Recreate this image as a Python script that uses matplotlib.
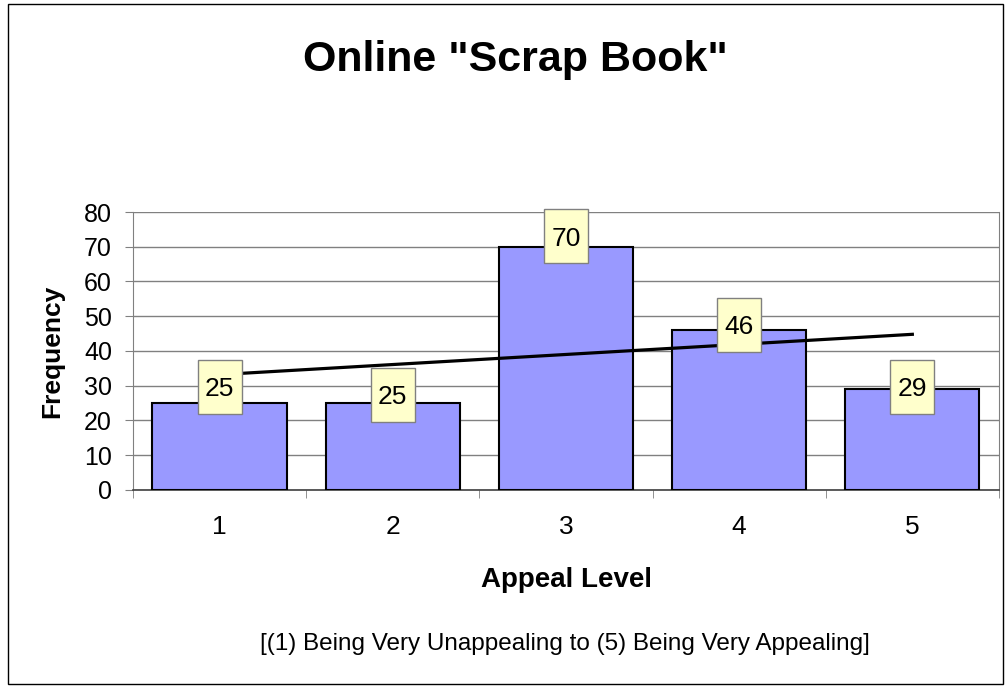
import matplotlib.pyplot as plt
import numpy as np
from matplotlib.patches import Rectangle
from matplotlib.transforms import ScaledTranslation

# datos
niveles = ['1', '2', '3', '4', '5']
frecuencia = [25, 25, 70, 46, 29]
yticks = [0, 10, 20, 30, 40, 50, 60, 70, 80]

# desplazamiento vertical de cada etiqueta (pulgadas)
desplaz = [0.165, 0.085, 0.105, 0.055, 0.025]

plt.rcParams['font.family'] = ['Liberation Sans', 'DejaVu Sans']

fig = plt.figure(figsize=(10.07, 6.87), dpi=100)
ax = fig.add_axes([0.132, 0.2868, 0.860, 0.4046])

x = np.arange(len(niveles))
ax.bar(x, frecuencia, width=0.775, color='#9999FF', edgecolor='black',
       linewidth=1.5, zorder=3)

# linea de tendencia
m, b = np.polyfit(x + 1, frecuencia, 1)
ax.plot([x[0], x[-1]], [m * 1 + b, m * len(x) + b], color='black', lw=2.3, zorder=4)

# etiquetas de valores
for xi, v, dy in zip(x, frecuencia, desplaz):
    t = fig.dpi_scale_trans + ScaledTranslation(xi, v, ax.transData)
    ax.add_patch(Rectangle((-0.22, dy - 0.27), 0.44, 0.54, transform=t,
                           fc='#FFFFCC', ec='#808080', lw=1, zorder=5, clip_on=False))
    ax.text(0, dy, str(v), transform=t, ha='center', va='center_baseline',
            fontsize=19, zorder=6)

ax.set_xlim(-0.5, len(x) - 0.5)
ax.set_ylim(0, 80)
ax.set_yticks(yticks)
ax.yaxis.grid(True, color='#808080', lw=1, zorder=0)
ax.set_axisbelow(True)

ax.set_xticks(x)
ax.set_xticklabels(niveles)
ax.set_xticks(np.arange(-0.5, len(x), 1), minor=True)
ax.tick_params(axis='x', which='major', length=0, pad=18, labelsize=19)
ax.tick_params(axis='x', which='minor', length=6, color='#808080', direction='out')
ax.tick_params(axis='y', length=6, color='#808080', labelsize=18, pad=9)

ax.spines['top'].set_visible(False)
for s in ['left', 'right']:
    ax.spines[s].set_color('#808080')
ax.spines['bottom'].set_color('#404040')
ax.spines['bottom'].set_linewidth(1.2)

fig.text(0.512, 0.8967, 'Online "Scrap Book"', ha='center', va='baseline',
         fontsize=31, fontweight='bold')
fig.text(0.052, 0.488, 'Frequency', rotation=90, ha='center', va='center',
         fontsize=19, fontweight='bold')
fig.text(0.563, 0.1456, 'Appeal Level', ha='center', va='baseline',
         fontsize=20, fontweight='bold')
fig.text(0.561, 0.0539, '[(1) Being Very Unappealing to (5) Being Very Appealing]',
         ha='center', va='baseline', fontsize=17.5)

# borde del grafico
fig.patches.append(Rectangle((0.008, 0.004), 0.988, 0.990, transform=fig.transFigure,
                             fill=False, ec='black', lw=1))

fig.savefig('out.png', dpi=100)
